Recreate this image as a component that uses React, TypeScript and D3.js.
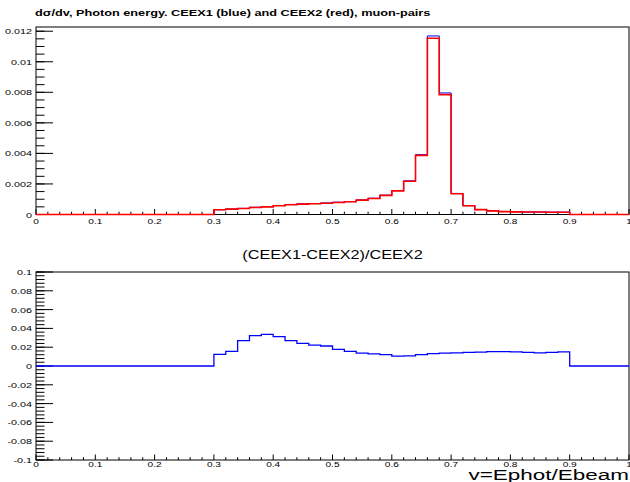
import React, { useEffect, useRef } from "react";
import * as d3 from "d3";

// histogram: 50 bins of 0.02 on [0,1]; non-zero bins start at 0.30
const firstBin = 15;
const nBins = 50;
const binWidth = 0.02;

// dsigma/dv, CEEX2 (red)
const ceex2 = [
    0.00031, 0.00035, 0.00039, 0.00046, 0.0005, 0.00057, 0.00064, 0.00068, 0.0007, 0.00074,
    0.00079, 0.00083, 0.00094, 0.00105, 0.00125, 0.00155, 0.00218, 0.00387, 0.01154, 0.00785,
    0.00136, 0.00057, 0.00032, 0.00024, 0.00019, 0.00017, 0.00016, 0.00016, 0.00015, 0.00015,
];

// dsigma/dv, CEEX1 (blue)
const ceex1 = [
    0.000314, 0.000355, 0.000401, 0.000475, 0.000517, 0.000588, 0.000657, 0.000696, 0.000716, 0.000756,
    0.000804, 0.000843, 0.000953, 0.001063, 0.001265, 0.001566, 0.002204, 0.003916, 0.011691, 0.007957,
    0.001379, 0.000578, 0.000325, 0.000244, 0.000193, 0.000173, 0.000162, 0.000162, 0.000152, 0.000152,
];

// (CEEX1-CEEX2)/CEEX2
const ratio = [
    0.0124, 0.0156, 0.027, 0.0323, 0.0337, 0.0312, 0.027, 0.0241, 0.0223, 0.0213,
    0.0177, 0.0156, 0.0138, 0.0128, 0.012, 0.0106, 0.0108, 0.012, 0.0131, 0.0136,
    0.014, 0.0145, 0.0148, 0.0152, 0.0153, 0.015, 0.0145, 0.014, 0.0145, 0.015,
];

const xMajor = [0, 0.1, 0.2, 0.3, 0.4, 0.5, 0.6, 0.7, 0.8, 0.9, 1];
const topMajor = [0, 0.002, 0.004, 0.006, 0.008, 0.01, 0.012];
const botMajor = [-0.1, -0.08, -0.06, -0.04, -0.02, 0, 0.02, 0.04, 0.06, 0.08, 0.1];

const title = "d\u03c3/dv, Photon energy. CEEX1 (blue) and CEEX2 (red), muon-pairs";
const ratioTitle = "(CEEX1-CEEX2)/CEEX2";
const xTitle = "v=Ephot/Ebeam";

const W = 630;
const H = 482;
const SX = 1.35; // horizontal text stretch
const FONT = "'Liberation Sans', Arial, Helvetica, sans-serif";

function fullHist(vals: number[]) {
    const out = new Array(nBins).fill(0);
    vals.forEach((v, i) => { out[firstBin + i] = v; });
    return out;
}

function label(g: any, x: number, y: number, txt: string, size: number, anchor = "middle", weight = "normal", sx = SX) {
    g.append("text")
        .attr("transform", `translate(${x},${y}) scale(${sx},1)`)
        .attr("text-anchor", anchor)
        .attr("font-family", FONT)
        .attr("font-size", size)
        .attr("font-weight", weight)
        .attr("fill", "#000")
        .text(txt);
}

const fmt = (v: number) => String(+v.toFixed(4));

export default function App() {
    const ref = useRef<SVGSVGElement>(null);

    useEffect(() => {
        document.body.style.margin = "0";
        const svg = d3.select(ref.current);
        svg.selectAll("*").remove();
        svg.append("rect").attr("width", W).attr("height", H).attr("fill", "#fff");

        const x = d3.scaleLinear().domain([0, 1]).range([36, 629]);
        const edges = d3.range(nBins + 1).map((i) => i * binWidth);
        const xMinor = d3.range(0, 51).map((i) => i * 0.02);

        function drawPanel(y: any, majorY: number[], minorY: number[], yLen: number, xLabY: number) {
            const [y0, y1] = y.range();
            const g = svg.append("g");
            g.append("rect")
                .attr("x", x(0)).attr("y", y1)
                .attr("width", x(1) - x(0)).attr("height", y0 - y1)
                .attr("fill", "none").attr("stroke", "#000").attr("stroke-width", 1);
            // x ticks
            xMinor.forEach((v) => {
                const major = Math.abs(v * 10 - Math.round(v * 10)) < 1e-6;
                g.append("line")
                    .attr("x1", x(v)).attr("x2", x(v))
                    .attr("y1", y0).attr("y2", y0 - (major ? 5.5 : 2.8))
                    .attr("stroke", "#000");
            });
            xMajor.forEach((v) => label(g, x(v), xLabY, fmt(v), 7.5));
            // y ticks
            minorY.forEach((v) => {
                g.append("line")
                    .attr("x1", x(0)).attr("x2", x(0) + yLen / 2)
                    .attr("y1", y(v)).attr("y2", y(v))
                    .attr("stroke", "#000");
            });
            majorY.forEach((v) => {
                g.append("line")
                    .attr("x1", x(0)).attr("x2", x(0) + yLen)
                    .attr("y1", y(v)).attr("y2", y(v))
                    .attr("stroke", "#000");
                label(g, 32, y(v) + 3, fmt(v), 8, "end");
            });
            return g;
        }

        function histPath(g: any, y: any, vals: number[], color: string, width: number) {
            const full = fullHist(vals);
            const pts: [number, number][] = edges.map((e, i) => [e, full[Math.min(i, nBins - 1)]]);
            const line = d3.line<[number, number]>()
                .x((d) => x(d[0]))
                .y((d) => y(d[1]))
                .curve(d3.curveStepAfter);
            g.append("path")
                .attr("d", line(pts))
                .attr("fill", "none")
                .attr("stroke", color)
                .attr("stroke-width", width);
        }

        // top panel
        const yMax = 1.05 * (d3.max(ceex1) as number);
        const yTop = d3.scaleLinear().domain([0, yMax]).range([214.5, 27]);
        const topMinor = d3.range(0, 25).map((i) => i * 0.0005).filter((v) => v <= yMax);
        const gTop = drawPanel(yTop, topMajor, topMinor, 17, 223.5);
        histPath(gTop, yTop, ceex1, "#0000ff", 1);
        histPath(gTop, yTop, ceex2, "#ff0000", 1.6);
        label(svg, 35, 16, title, 9.5, "start", "bold", 1.34);

        // ratio panel
        const yBot = d3.scaleLinear().domain([-0.1, 0.1]).range([460, 272]);
        const botMinor = d3.range(0, 51).map((i) => -0.1 + i * 0.004);
        const gBot = drawPanel(yBot, botMajor, botMinor, 17, 467);
        histPath(gBot, yBot, ratio, "#0000ff", 1.3);
        label(svg, 332.5, 259, ratioTitle, 12.5, "middle", "normal", 1.3);
        label(svg, 629, 479.5, xTitle, 15.5, "end", "normal", 1.45);
    }, []);

    return <svg ref={ref} width={W} height={H} style={{ display: "block" }} />;
}
